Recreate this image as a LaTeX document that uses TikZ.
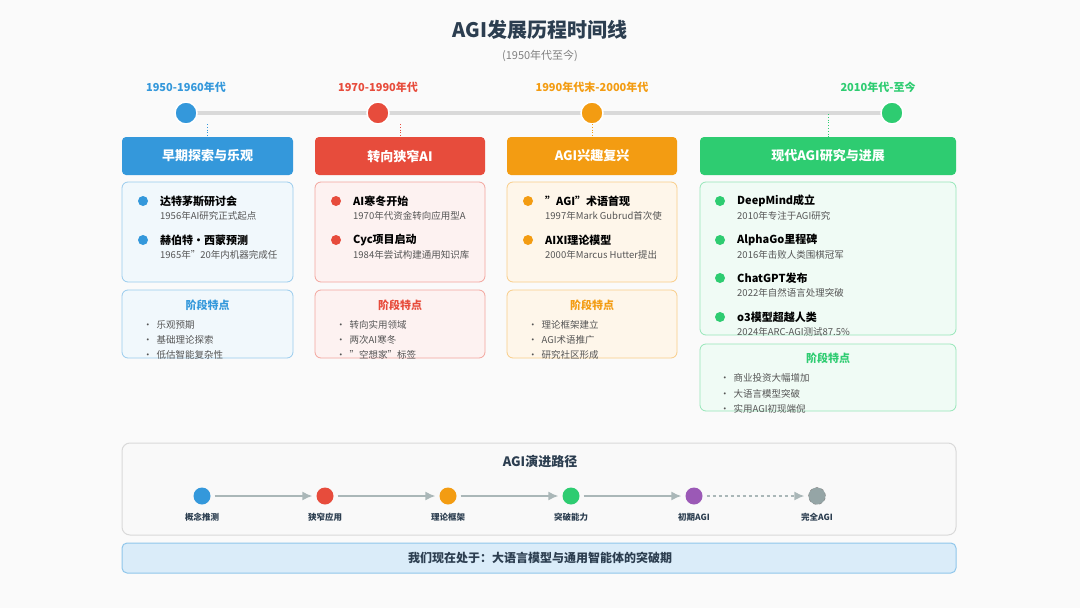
\documentclass[tikz,border=0pt]{standalone}
\usepackage{fontspec}
\setmainfont{Noto Sans CJK SC}
\usetikzlibrary{positioning,arrows.meta}
\definecolor{cblue}{HTML}{3498DB}
\definecolor{cred}{HTML}{E74C3C}
\definecolor{corange}{HTML}{F39C12}
\definecolor{cgreen}{HTML}{2ECC71}
\definecolor{cpurple}{HTML}{9B59B6}
\definecolor{cgray}{HTML}{95A5A6}
\definecolor{cdark}{HTML}{2C3E50}
\definecolor{ctext}{HTML}{555555}
\newcommand{\qq}{\char"22\relax}
\begin{document}
\begin{tikzpicture}[x=1pt,y=-1pt]
  \tikzstyle{era} = [font=\bfseries\fontsize{11}{13}\selectfont]
  \tikzstyle{dot} = [circle, minimum size=22pt, inner sep=0pt, draw=white, line width=1.5pt]
  \tikzstyle{head} = [rectangle, rounded corners=4pt, minimum height=38pt, text=white, font=\bfseries\fontsize{13}{15}\selectfont]
  \tikzstyle{card} = [rectangle, rounded corners=6pt, line width=0.8pt]
  \tikzstyle{evt} = [anchor=west, inner sep=0pt, font=\bfseries\fontsize{11}{13}\selectfont]
  \tikzstyle{sub} = [anchor=west, inner sep=0pt, text=ctext, font=\fontsize{9.5}{11}\selectfont]
  \tikzstyle{feat} = [inner sep=0pt, font=\bfseries\fontsize{11}{13}\selectfont]
  \tikzstyle{item} = [anchor=west, inner sep=0pt, text=ctext, font=\fontsize{9.5}{11}\selectfont]
  \tikzstyle{pdot} = [circle, minimum size=17pt, inner sep=0pt]
  \tikzstyle{plabel} = [inner sep=0pt, font=\bfseries\fontsize{8.5}{10}\selectfont, text=cdark]
  \tikzstyle{arrow} = [draw=cgray!80, line width=1.5pt, -{Latex[length=10pt,width=9pt]}, shorten <=4pt, shorten >=4pt]

  \useasboundingbox[fill=gray!4] (0,0) rectangle (1080,608);

  % title
  \node (title) at (540,30) [text=cdark, font=\bfseries\fontsize{20}{24}\selectfont] {AGI发展历程时间线};
  \node (subtitle) at (540,56) [text=gray, font=\fontsize{11}{13}\selectfont] {(1950年代至今)};

  % timeline
  \node (e1) at (186,87) [era, text=cblue] {1950-1960年代};
  \node (e2) at (378,87) [era, text=cred] {1970-1990年代};
  \node (e3) at (592,87) [era, text=corange] {1990年代末-2000年代};
  \node (e4) at (878,87) [era, text=cgreen] {2010年代-至今};
  \coordinate (tl0) at (185,113);
  \coordinate (tl1) at (892,113);
  \draw [line width=4pt, gray!30, line cap=round] (tl0) -- (tl1);
  \node (d1) at (186,113) [dot, fill=cblue] {};
  \node (d2) at (378,113) [dot, fill=cred] {};
  \node (d3) at (592,113) [dot, fill=corange] {};
  \node (d4) at (892,113) [dot, fill=cgreen] {};

  % headers
  \node (h1) at (207.5,156) [head, minimum width=171pt, fill=cblue] {早期探索与乐观};
  \node (h2) at (400,156) [head, minimum width=170pt, fill=cred] {转向狭窄AI};
  \node (h3) at (592,156) [head, minimum width=170pt, fill=corange] {AGI兴趣复兴};
  \node (h4) at (828,156) [head, minimum width=256pt, fill=cgreen] {现代AGI研究与进展};
  \coordinate (c1) at (207.5,124); \coordinate (c2) at (400,124);
  \coordinate (c3) at (592,124);   \coordinate (c4) at (828,114);
  \draw [dotted, thick, cblue] (c1) -- (h1);
  \draw [dotted, thick, cred] (c2) -- (h2);
  \draw [dotted, thick, corange] (c3) -- (h3);
  \draw [dotted, thick, cgreen] (c4) -- (h4);

  % cards
  \draw [card, draw=cblue!50, fill=cblue!7] (122,182) rectangle (293,282);
  \draw [card, draw=cred!50, fill=cred!7] (315,182) rectangle (485,282);
  \draw [card, draw=corange!50, fill=corange!9] (507,182) rectangle (677,282);
  \draw [card, draw=cgreen!50, fill=cgreen!7] (700,182) rectangle (956,335);
  \draw [card, draw=cblue!50, fill=cblue!7] (122,290) rectangle (293,358);
  \draw [card, draw=cred!50, fill=cred!7] (315,290) rectangle (485,358);
  \draw [card, draw=corange!50, fill=corange!9] (507,290) rectangle (677,358);
  \draw [card, draw=cgreen!50, fill=cgreen!7] (700,344) rectangle (956,411);

  % events
  \foreach \x/\y/\c/\t/\s in {
      143/201/cblue/达特茅斯研讨会/1956年AI研究正式起点,
      143/240/cblue/赫伯特·西蒙预测/1965年\qq20年内机器完成任,
      336/201/cred/AI寒冬开始/1970年代资金转向应用型A,
      336/240/cred/Cyc项目启动/1984年尝试构建通用知识库,
      528/201/corange/\qq AGI\qq 术语首现/1997年Mark Gubrud首次使,
      528/240/corange/AIXI理论模型/2000年Marcus Hutter提出,
      720/201/cgreen/DeepMind成立/2010年专注于AGI研究,
      720/240/cgreen/AlphaGo里程碑/2016年击败人类围棋冠军,
      720/278/cgreen/ChatGPT发布/2022年自然语言处理突破,
      720/317/cgreen/o3模型超越人类/2024年ARC-AGI测试87.5\%} {
    \fill [\c] (\x,\y) circle (5pt);
    \node [evt] at (\x+17,\y) {\t};
    \node [sub] at (\x+17,\y+15) {\s};
  }

  % features
  \node (f1) at (207.5,305) [feat, text=cblue] {阶段特点};
  \node (f2) at (400,305) [feat, text=cred] {阶段特点};
  \node (f3) at (592,305) [feat, text=corange] {阶段特点};
  \node (f4) at (828,358) [feat, text=cgreen] {阶段特点};
  \foreach \x/\y/\t in {
      143/325/乐观预期, 143/340/基础理论探索, 143/355/低估智能复杂性,
      336/325/转向实用领域, 336/340/两次AI寒冬, 336/355/\qq 空想家\qq 标签,
      528/325/理论框架建立, 528/340/AGI术语推广, 528/355/研究社区形成,
      720/378/商业投资大幅增加, 720/394/大语言模型突破, 720/409/实用AGI初现端倪} {
    \node [item] at (\x,\y) {•\hspace{4pt}\t};
  }

  % path
  \draw [rounded corners=8pt, draw=gray!30, line width=1pt, fill=gray!5] (122,443) rectangle (956,535);
  \node (ptitle) at (540,462) [text=cdark, font=\bfseries\fontsize{13}{15}\selectfont] {AGI演进路径};
  \node (p1) at (202,496) [pdot, fill=cblue] {};
  \node (p2) at (325,496) [pdot, fill=cred] {};
  \node (p3) at (448,496) [pdot, fill=corange] {};
  \node (p4) at (571,496) [pdot, fill=cgreen] {};
  \node (p5) at (694,496) [pdot, fill=cpurple] {};
  \node (p6) at (817,496) [pdot, fill=cgray, draw=gray, dashed] {};
  \draw [arrow] (p1) -- (p2);
  \draw [arrow] (p2) -- (p3);
  \draw [arrow] (p3) -- (p4);
  \draw [arrow] (p4) -- (p5);
  \draw [arrow, dashed] (p5) -- (p6);
  \node (l1) [plabel, below=8pt of p1] {概念推测};
  \node (l2) [plabel, below=8pt of p2] {狭窄应用};
  \node (l3) [plabel, below=8pt of p3] {理论框架};
  \node (l4) [plabel, below=8pt of p4] {突破能力};
  \node (l5) [plabel, below=8pt of p5] {初期AGI};
  \node (l6) [plabel, below=8pt of p6] {完全AGI};

  % now
  \draw [rounded corners=5pt, draw=cblue!55, line width=1pt, fill=cblue!18] (122,543) rectangle (956,573);
  \node (now) at (540,558) [text=cdark, font=\bfseries\fontsize{12}{14}\selectfont] {我们现在处于：大语言模型与通用智能体的突破期};
\end{tikzpicture}
\end{document}
